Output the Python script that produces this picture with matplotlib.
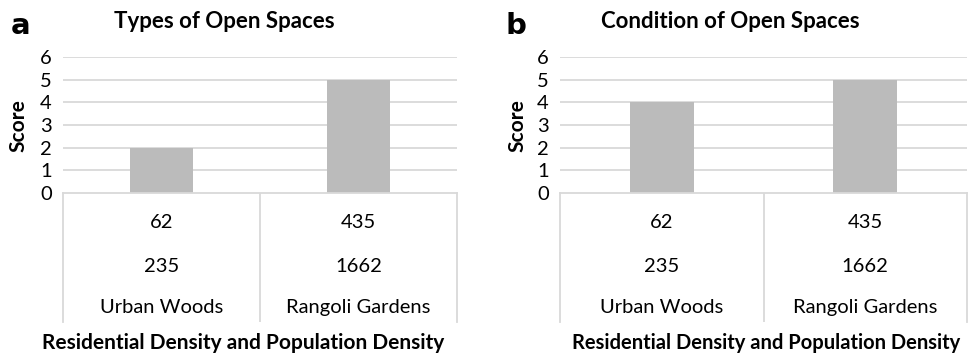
import matplotlib.pyplot as plt

plt.rcParams['font.family'] = ['Lato', 'DejaVu Sans']

# scores per neighbourhood
categories = ['Urban Woods', 'Rangoli Gardens']
residential_density = [62, 435]
population_density = [235, 1662]
types_scores = [2, 5]
condition_scores = [4, 5]
yticks = [0, 1, 2, 3, 4, 5, 6]

W, H = 973, 360
BAR = '#BBBBBB'
GRID = '#D9D9D9'

fig = plt.figure(figsize=(W / 100, H / 100), dpi=100)


def px_axes(x0, y0, x1, y1):
    # pixel box (top-left origin) -> figure axes
    return fig.add_axes([x0 / W, 1 - y1 / H, (x1 - x0) / W, (y1 - y0) / H])


def panel(x0, x1, scores, title, letter, title_x, letter_x, label_x, score_x, label_size):
    ax = px_axes(x0, 57, x1, 193)
    xs = range(len(categories))
    ax.bar(xs, scores, width=0.315, color=BAR, zorder=2)
    ax.set_xlim(-0.5, len(categories) - 0.5)
    ax.set_ylim(0, 6)
    ax.set_yticks(yticks)
    ax.set_yticklabels([str(t) for t in yticks], fontsize=14.5)
    ax.tick_params(axis='y', length=0, pad=8)
    ax.set_xticks([])
    for s in ax.spines.values():
        s.set_visible(False)
    for t in yticks[1:]:
        ax.axhline(t, color=GRID, lw=1.3, zorder=1)

    # category table under the bars
    tb = px_axes(x0, 193, x1, 322)
    tb.set_xlim(-0.5, len(categories) - 0.5)
    tb.set_ylim(0, 1)
    tb.set_xticks([])
    tb.set_yticks([])
    tb.spines['bottom'].set_visible(False)
    for side in ('left', 'right', 'top'):
        tb.spines[side].set_color(GRID)
        tb.spines[side].set_linewidth(1.3)
    for i in range(1, len(categories)):
        tb.axvline(i - 0.5, color=GRID, lw=1.3)
    for i, name in enumerate(categories):
        tb.text(i, 1 - 0.23, str(residential_density[i]), ha='center', va='center', fontsize=14.5)
        tb.text(i, 1 - 0.57, str(population_density[i]), ha='center', va='center', fontsize=14.5)
        tb.text(i, 1 - 0.89, name, ha='center', va='center', fontsize=14.5)

    fig.text(title_x / W, 1 - 21 / H, title, ha='center', va='center',
             fontsize=16, fontweight='bold')
    fig.text(letter_x / W, 1 - 26 / H, letter, ha='center', va='center',
             fontsize=21, fontweight='bold', family='DejaVu Sans')
    fig.text(label_x / W, 1 - 343 / H, 'Residential Density and Population Density',
             ha='center', va='center', fontsize=label_size, fontweight='bold')
    fig.text(score_x / W, 1 - 126 / H, 'Score', ha='center', va='center',
             rotation=90, fontsize=15, fontweight='bold')


panel(63, 457, types_scores, 'Types of Open Spaces', 'a', 224, 21, 243, 18, 15)
panel(560, 967, condition_scores, 'Condition of Open Spaces', 'b', 730, 516, 766, 517, 14.5)

fig.savefig('out.png', dpi=100)
